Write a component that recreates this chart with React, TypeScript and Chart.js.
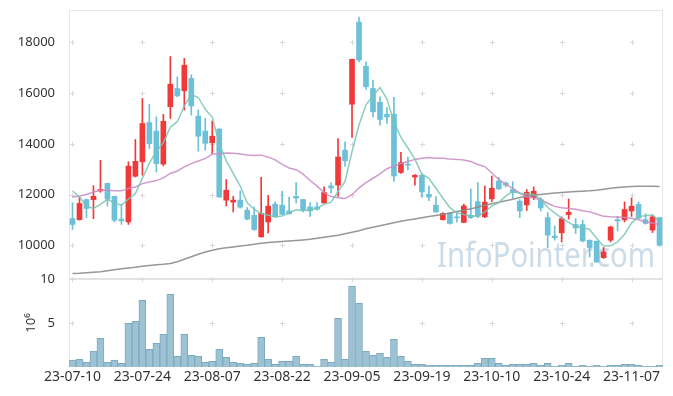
import { useEffect, useRef } from 'react';
import { Chart, registerables } from 'chart.js';

Chart.register(...registerables);

const dates = [
  '23-07-10','23-07-11','23-07-12','23-07-13','23-07-14','23-07-17','23-07-18','23-07-19','23-07-20','23-07-21',
  '23-07-24','23-07-25','23-07-26','23-07-27','23-07-28','23-07-31','23-08-01','23-08-02','23-08-03','23-08-04',
  '23-08-07','23-08-08','23-08-09','23-08-10','23-08-11','23-08-14','23-08-16','23-08-17','23-08-18','23-08-21',
  '23-08-22','23-08-23','23-08-24','23-08-25','23-08-28','23-08-29','23-08-30','23-08-31','23-09-01','23-09-04',
  '23-09-05','23-09-06','23-09-07','23-09-08','23-09-11','23-09-12','23-09-13','23-09-14','23-09-15','23-09-18',
  '23-09-19','23-09-20','23-09-21','23-09-22','23-09-25','23-09-26','23-09-27','23-10-04','23-10-05','23-10-06',
  '23-10-10','23-10-11','23-10-12','23-10-13','23-10-16','23-10-17','23-10-18','23-10-19','23-10-20','23-10-23',
  '23-10-24','23-10-25','23-10-26','23-10-27','23-10-30','23-10-31','23-11-01','23-11-02','23-11-03','23-11-06',
  '23-11-07','23-11-08','23-11-09','23-11-10','23-11-13',
];

const opens = [
  11050, 11010, 11800, 11800, 12140, 12440, 11930, 11030, 10920, 12720,
  13290, 14840, 14500, 13200, 15460, 16180, 16090, 16580, 15090, 14500,
  14040, 14580, 11780, 11700, 11780, 11380, 11180, 10330, 10920, 11620,
  11580, 11350, 11930, 11800, 11510, 11510, 11670, 12340, 12370, 13750,
  15560, 18800, 17060, 16180, 15640, 15160, 15170, 12870, 13200, 12690,
  12760, 12010, 11580, 11010, 11260, 11120, 10900, 11180, 11720, 11120,
  11830, 12530, 12450, 12200, 11740, 11590, 11870, 11800, 11090, 10360,
  10490, 11210, 10820, 10820, 10200, 10160, 9510, 10200, 11010, 11000,
  11350, 11610, 11010, 10600, 11090,
];

const highs = [
  11680, 11900, 11830, 12350, 13350, 12450, 11940, 11620, 13290, 14170,
  15790, 15550, 15060, 15160, 17440, 16640, 17370, 16720, 15330, 15000,
  14900, 14600, 12590, 11930, 12140, 11490, 11510, 12680, 11970, 11710,
  12140, 11900, 12470, 11810, 11680, 11680, 12300, 12460, 14210, 14080,
  17340, 19000, 17230, 16510, 15850, 15430, 15830, 13660, 13480, 12790,
  12830, 12330, 11920, 11290, 11290, 11270, 11620, 12220, 12470, 12340,
  12730, 12680, 12500, 12500, 11800, 12200, 12300, 11880, 11290, 10760,
  11120, 11830, 11050, 10990, 10210, 10170, 9910, 10760, 11140, 11710,
  11870, 11710, 11240, 11180, 11100,
];

const lows = [
  10620, 10990, 11090, 11050, 12090, 11540, 10920, 10820, 10820, 12690,
  12760, 13810, 12890, 13130, 15000, 15850, 15330, 15130, 13710, 13750,
  13620, 11890, 11550, 11310, 11460, 11000, 10590, 10320, 10490, 11110,
  11210, 11230, 11670, 11310, 11140, 11380, 11660, 12050, 11930, 13120,
  14250, 17230, 16140, 15060, 14730, 14800, 12520, 12830, 12970, 12370,
  11900, 11760, 11300, 10990, 10830, 10920, 10890, 11050, 11080, 11090,
  11720, 12200, 12300, 11850, 11090, 11370, 11800, 11350, 9910, 10200,
  10130, 11030, 10460, 10130, 9540, 9330, 9480, 10130, 10560, 10920,
  11140, 11050, 10830, 10500, 9960,
];

const closes = [
  10820, 11650, 11450, 11930, 12200, 11820, 10990, 10960, 13120, 13310,
  14800, 14010, 13220, 14890, 16350, 15890, 17100, 15490, 14300, 14020,
  14300, 11900, 12170, 11780, 11500, 11030, 10620, 11260, 11540, 11120,
  11220, 11240, 11860, 11380, 11350, 11420, 12080, 12260, 13480, 13330,
  17330, 17300, 16250, 15260, 14960, 15060, 12730, 13260, 13160, 12760,
  12100, 11900, 11310, 11250, 10860, 11080, 11550, 11090, 11140, 11700,
  12250, 12220, 12370, 12070, 11350, 12090, 12130, 11470, 10400, 10300,
  11050, 11300, 10680, 10170, 9910, 9340, 9740, 10720, 10960, 11410,
  11540, 11070, 10860, 11120, 10000,
];

// volume in millions of shares
const volumes = [
  0.80, 0.87, 0.53, 1.82, 3.26, 0.53, 0.80, 0.42, 4.96, 5.19,
  7.58, 2.00, 2.69, 3.71, 8.26, 1.21, 3.71, 1.33, 1.21, 0.53,
  0.64, 2.00, 1.10, 0.53, 0.42, 0.30, 0.42, 3.37, 0.87, 0.30,
  0.64, 0.64, 1.21, 0.30, 0.30, 0.08, 0.87, 0.53, 5.53, 0.87,
  9.20, 7.23, 1.78, 1.33, 1.55, 1.10, 3.14, 1.21, 0.64, 0.30,
  0.30, 0.19, 0.19, 0.19, 0.19, 0.19, 0.19, 0.19, 0.42, 0.98,
  0.98, 0.42, 0.19, 0.30, 0.30, 0.30, 0.42, 0.19, 0.42, 0.08,
  0.19, 0.42, 0.08, 0.19, 0.08, 0.19, 0.08, 0.19, 0.19, 0.30,
  0.30, 0.19, 0.08, 0.08, 0.19,
];

const ma5 = [
  12150, 11905, 11540, 11450, 11610, 11810, 11678, 11580, 11818, 12040,
  12636, 13240, 13692, 14046, 14654, 14872, 15490, 15944, 15826, 15360,
  15042, 14002, 13338, 12834, 12330, 11676, 11420, 11238, 11190, 11114,
  11152, 11276, 11396, 11364, 11410, 11450, 11618, 11698, 12118, 12514,
  13696, 14740, 15538, 15894, 16220, 15766, 14852, 14254, 13834, 13394,
  12802, 12636, 12246, 11864, 11484, 11280, 11210, 11166, 11144, 11312,
  11546, 11680, 11936, 12122, 12052, 12020, 12002, 11822, 11488, 11278,
  11070, 10904, 10746, 10700, 10622, 10280, 9968, 9976, 10134, 10434,
  10874, 11140, 11168, 11200, 10918,
];

const ma20 = [
  11905, 11945, 12000, 12100, 12170, 12170, 12145, 12145, 12235, 12300,
  12430, 12495, 12550, 12655, 12830, 12930, 13090, 13220, 13320, 13416,
  13590, 13603, 13639, 13631, 13596, 13557, 13538, 13553, 13474, 13365,
  13186, 13047, 12979, 12804, 12554, 12330, 12079, 11918, 11877, 11842,
  11994, 12264, 12468, 12642, 12815, 13016, 13122, 13222, 13303, 13385,
  13429, 13462, 13434, 13428, 13403, 13386, 13360, 13301, 13184, 13103,
  12849, 12595, 12401, 12241, 12061, 11912, 11882, 11793, 11655, 11532,
  11479, 11449, 11418, 11364, 11316, 11229, 11139, 11120, 11111, 11097,
  11061, 11004, 10928, 10881, 10813,
];

const maLong = [
  8884, 8895, 8915, 8935, 8955, 8994, 9033, 9073, 9104, 9132,
  9172, 9199, 9231, 9250, 9278, 9349, 9448, 9546, 9645, 9736,
  9803, 9862, 9901, 9933, 9968, 10000, 10039, 10079, 10107, 10126,
  10146, 10166, 10185, 10209, 10237, 10276, 10316, 10355, 10395, 10454,
  10513, 10572, 10651, 10710, 10769, 10828, 10888, 10947, 10994, 11038,
  11085, 11132, 11176, 11223, 11274, 11329, 11381, 11436, 11499, 11578,
  11637, 11696, 11756, 11815, 11882, 11933, 11973, 12004, 12032, 12059,
  12083, 12103, 12118, 12130, 12146, 12170, 12209, 12249, 12280, 12300,
  12316, 12328, 12328, 12328, 12320,
];

const priceTicks = [10000, 12000, 14000, 16000, 18000];
const volumeTicks = [0, 5, 10];

const LABEL_EVERY = 10;
const UP = '#f03a3a';
const DOWN = '#6cc0d8';
const FONT = '"Noto Sans", sans-serif';

const decorPlugin = {
  id: 'decor',
  beforeDatasetsDraw(chart: any) {
    const { ctx, chartArea } = chart;
    const xs = chart.scales.x;
    const ys = chart.scales.y;
    const yv = chart.scales.y2;
    ctx.save();
    // watermark
    ctx.fillStyle = 'rgba(160,192,214,0.55)';
    ctx.font = '34px ' + FONT;
    ctx.textAlign = 'right';
    ctx.textBaseline = 'alphabetic';
    ctx.fillText('InfoPointer.com', chartArea.right - 8, ys.bottom - 12, 218);

    // frame
    ctx.strokeStyle = '#e6e6e6';
    ctx.lineWidth = 1;
    ctx.beginPath();
    ctx.moveTo(chartArea.left + 0.5, ys.top + 0.5);
    ctx.lineTo(chartArea.right - 0.5, ys.top + 0.5);
    ctx.moveTo(chartArea.left + 0.5, ys.top);
    ctx.lineTo(chartArea.left + 0.5, yv.bottom);
    ctx.moveTo(chartArea.right - 0.5, ys.top);
    ctx.lineTo(chartArea.right - 0.5, yv.bottom);
    ctx.stroke();
    ctx.strokeStyle = '#e2e2e2';
    ctx.lineWidth = 2;
    ctx.beginPath();
    ctx.moveTo(chartArea.left, ys.bottom);
    ctx.lineTo(chartArea.right, ys.bottom);
    ctx.stroke();

    // cross grid marks
    ctx.strokeStyle = '#d9d9d9';
    ctx.lineWidth = 1;
    const h = 2.5;
    ctx.beginPath();
    for (let i = 0; i < dates.length; i += LABEL_EVERY) {
      const px = Math.round(xs.getPixelForValue(i)) + 0.5;
      const ptsY: number[] = [];
      ys.ticks.forEach((t: any) => ptsY.push(ys.getPixelForValue(t.value)));
      yv.ticks.forEach((t: any) => { if (t.value > 0) ptsY.push(yv.getPixelForValue(t.value)); });
      ptsY.forEach((p) => {
        const py = Math.round(p) + 0.5;
        ctx.moveTo(px - h, py);
        ctx.lineTo(px + h, py);
        ctx.moveTo(px, py - h);
        ctx.lineTo(px, py + h);
      });
    }
    ctx.stroke();
    ctx.restore();
  },
};

const fitY = (s: any) => {
  s.width = 69;
  s.paddingTop = 0;
  s.paddingBottom = 0;
};

export default function App() {
  const ref = useRef<HTMLCanvasElement | null>(null);

  useEffect(() => {
    if (!ref.current) return;
    const colors = closes.map((c, i) => (c >= opens[i] ? UP : DOWN));
    const chart = new Chart(ref.current, {
      type: 'bar',
      data: {
        labels: dates,
        datasets: [
          {
            type: 'line',
            data: ma5,
            yAxisID: 'y',
            borderColor: 'rgba(120,196,180,0.85)',
            borderWidth: 1.5,
            pointRadius: 0,
            order: 1,
          } as any,
          {
            type: 'line',
            data: ma20,
            yAxisID: 'y',
            borderColor: 'rgba(200,138,195,0.85)',
            borderWidth: 1.5,
            pointRadius: 0,
            order: 1,
          } as any,
          {
            type: 'line',
            data: maLong,
            yAxisID: 'y',
            borderColor: 'rgba(140,140,140,0.9)',
            borderWidth: 1.5,
            pointRadius: 0,
            order: 1,
          } as any,
          {
            type: 'bar',
            data: opens.map((o, i) => [o, closes[i]]),
            yAxisID: 'y',
            backgroundColor: colors,
            barThickness: 5,
            grouped: false,
            borderSkipped: false,
            order: 2,
          } as any,
          {
            type: 'bar',
            data: lows.map((l, i) => [l, highs[i]]),
            yAxisID: 'y',
            backgroundColor: colors,
            barThickness: 1,
            grouped: false,
            borderSkipped: false,
            order: 3,
          } as any,
          {
            type: 'bar',
            data: volumes,
            yAxisID: 'y2',
            backgroundColor: '#9cc2d3',
            borderColor: '#7eaabf',
            borderWidth: 1,
            barPercentage: 1,
            categoryPercentage: 1,
            grouped: false,
            order: 4,
          } as any,
        ],
      },
      options: {
        animation: false,
        responsive: false,
        devicePixelRatio: 1,
        layout: { padding: { left: 0, right: 10, top: 10, bottom: 0 } },
        plugins: { legend: { display: false }, tooltip: { enabled: false } },
        scales: {
          x: {
            type: 'category',
            offset: true,
            grid: { display: false },
            border: { display: false },
            ticks: {
              autoSkip: false,
              maxRotation: 0,
              minRotation: 0,
              padding: -6,
              color: '#333',
              font: { family: FONT, size: 14 },
              callback: (_v: any, i: number) => (i % LABEL_EVERY === 0 ? dates[i] : ''),
            },
            afterFit: (s: any) => { s.height = 29; s.paddingLeft = 0; s.paddingRight = 0; },
          },
          y2: {
            type: 'linear',
            position: 'left',
            stack: 'panels',
            stackWeight: 88,
            min: 0,
            max: 10,
            grid: { display: false },
            border: { display: false },
            afterBuildTicks: (s: any) => { s.ticks = volumeTicks.map((v) => ({ value: v })); },
            ticks: {
              padding: 6,
              color: '#333',
              font: { family: FONT, size: 13 },
              callback: (v: any) => (v === 0 ? '' : String(v)),
            },
            title: {
              display: true,
              text: '10⁶',
              color: '#333',
              font: { family: FONT, size: 13 },
              padding: { top: 23, bottom: 0 },
            },
            afterFit: fitY,
          },
          y: {
            type: 'linear',
            position: 'left',
            stack: 'panels',
            stackWeight: 269,
            min: 8670,
            max: 19275,
            grid: { display: false },
            border: { display: false },
            afterBuildTicks: (s: any) => { s.ticks = priceTicks.map((v) => ({ value: v })); },
            ticks: {
              padding: 6,
              color: '#333',
              font: { family: FONT, size: 13 },
              callback: (v: any) => String(v),
            },
            afterFit: fitY,
          },
        },
      } as any,
      plugins: [decorPlugin],
    });
    return () => chart.destroy();
  }, []);

  return (
    <div style={{ position: 'fixed', left: 0, top: 0, width: 673, height: 396, background: '#fff' }}>
      <canvas ref={ref} width={673} height={396} />
    </div>
  );
}
